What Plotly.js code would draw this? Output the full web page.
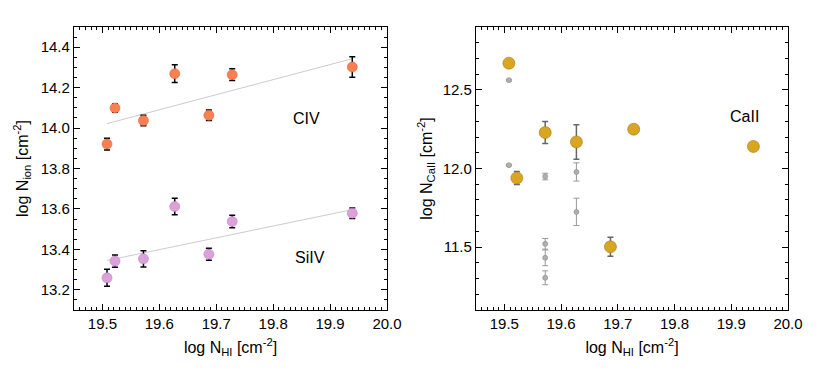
<!DOCTYPE html>
<html>
<head>
<meta charset="utf-8">
<script src="https://cdn.plot.ly/plotly-3.0.1.min.js"></script>
<style>
  html, body { margin: 0; padding: 0; background: #fff; }
  #wrap { position: relative; width: 830px; height: 380px; }
  #left { position: absolute; left: 0; top: 0; width: 415px; height: 380px; }
  #right { position: absolute; left: 415px; top: 0; width: 415px; height: 380px; }
</style>
</head>
<body>
<div id="wrap"><div id="left"></div><div id="right"></div></div>
<script>
// log N(HI) of the absorbers
const logNHI = [19.508, 19.522, 19.572, 19.627, 19.687, 19.728, 19.939];

// left panel: high ions
const logCIV = [13.921, 14.099, 14.037, 14.269, 14.063, 14.264, 14.302];
const errCIV = [0.029, 0.021, 0.026, 0.044, 0.026, 0.029, 0.051];
const logSiIV = [13.259, 13.342, 13.353, 13.612, 13.376, 13.538, 13.579];
const errSiIV = [0.042, 0.030, 0.040, 0.041, 0.030, 0.031, 0.026];

// linear fits
const fitX = [19.508, 19.94];
const fitCIV = [14.022, 14.344];
const fitSiIV = [13.345, 13.597];

// right panel: CaII totals and single components
const logCaII = [12.67, 11.94, 12.229, 12.169, 11.502, 12.25, 12.14];
const errCaII = [0, 0.041, 0.07, 0.11, 0.06, 0, 0];
const compX = [19.508, 19.508, 19.572, 19.572, 19.572, 19.572, 19.627, 19.627];
const compY = [12.562, 12.021, 11.949, 11.521, 11.432, 11.305, 11.978, 11.724];
const compErr = [0.005, 0.005, 0.021, 0.034, 0.05, 0.044, 0.058, 0.087];

const FONT = 'Liberation Sans, Arial, Helvetica, sans-serif';
const TICKFONT = { family: FONT, size: 15, color: '#000' };
const TITLEFONT = { family: FONT, size: 16, color: '#000' };

function errBars(arr, color, thick) {
  return { type: 'data', array: arr, visible: true, color: color, thickness: thick, width: 3 };
}

function frame(extra) {
  return Object.assign({
    tickmode: 'linear', tickformat: '.1f',
    ticks: 'inside', ticklen: 6, tickwidth: 1, tickcolor: '#000',
    showline: true, linecolor: '#000', linewidth: 1.2, mirror: 'allticks',
    showgrid: false, zeroline: false,
    tickfont: TICKFONT
  }, extra);
}

function xAxis() {
  return frame({
    range: [19.45, 20.0], tick0: 19.5, dtick: 0.1,
    minor: { ticks: 'inside', dtick: 0.01, tick0: 19.45, ticklen: 3, tickcolor: '#000', showgrid: false },
    title: { text: 'log N<sub>HI</sub> [cm<sup>-2</sup>]', font: TITLEFONT, standoff: 10 }
  });
}

const leftTraces = [
  { x: fitX, y: fitCIV, mode: 'lines', line: { color: '#cccccc', width: 1 } },
  { x: fitX, y: fitSiIV, mode: 'lines', line: { color: '#cccccc', width: 1 } },
  {
    x: logNHI, y: logCIV, mode: 'markers', name: 'CIV',
    marker: { size: 10, color: '#ff7f50', line: { color: '#d86a45', width: 0.6 } },
    error_y: errBars(errCIV, '#000000', 1.5)
  },
  {
    x: logNHI, y: logSiIV, mode: 'markers', name: 'SiIV',
    marker: { size: 10, color: '#dda0dd', line: { color: '#bb88bb', width: 0.6 } },
    error_y: errBars(errSiIV, '#000000', 1.5)
  }
];

const leftLayout = {
  width: 415, height: 380,
  margin: { l: 74, r: 28, t: 27, b: 70 },
  showlegend: false,
  xaxis: xAxis(),
  yaxis: frame({
    range: [13.1, 14.5], tick0: 13.2, dtick: 0.2,
    minor: { ticks: 'inside', dtick: 0.05, tick0: 13.1, ticklen: 3, tickcolor: '#000', showgrid: false },
    title: { text: 'log N<sub>ion</sub> [cm<sup>-2</sup>]', font: TITLEFONT, standoff: 8 }
  }),
  annotations: [
    { x: 19.859, y: 14.048, text: 'CIV', showarrow: false, font: TITLEFONT },
    { x: 19.865, y: 13.36, text: 'SiIV', showarrow: false, font: TITLEFONT }
  ]
};

const rightTraces = [
  {
    x: compX, y: compY, mode: 'markers', name: 'components',
    marker: { size: 5, color: '#b0b0b0', line: { color: '#888888', width: 0.6 } },
    error_y: errBars(compErr, '#999999', 1)
  },
  {
    x: logNHI, y: logCaII, mode: 'markers', name: 'CaII',
    marker: { size: 12, color: '#daa520', line: { color: '#a07818', width: 0.6 } },
    error_y: errBars(errCaII, '#666666', 1.5)
  }
];

const rightLayout = {
  width: 415, height: 380,
  margin: { l: 61, r: 42, t: 27, b: 70 },
  showlegend: false,
  xaxis: xAxis(),
  yaxis: frame({
    range: [11.1, 12.9], tick0: 11.5, dtick: 0.5,
    minor: { ticks: 'inside', dtick: 0.1, tick0: 11.1, ticklen: 3, tickcolor: '#000', showgrid: false },
    title: { text: 'log N<sub>CaII</sub> [cm<sup>-2</sup>]', font: TITLEFONT, standoff: 8 }
  }),
  annotations: [
    { x: 19.923, y: 12.333, text: 'CaII', showarrow: false, font: TITLEFONT }
  ]
};

Plotly.newPlot('left', leftTraces, leftLayout, { displayModeBar: false });
Plotly.newPlot('right', rightTraces, rightLayout, { displayModeBar: false });
</script>
</body>
</html>
